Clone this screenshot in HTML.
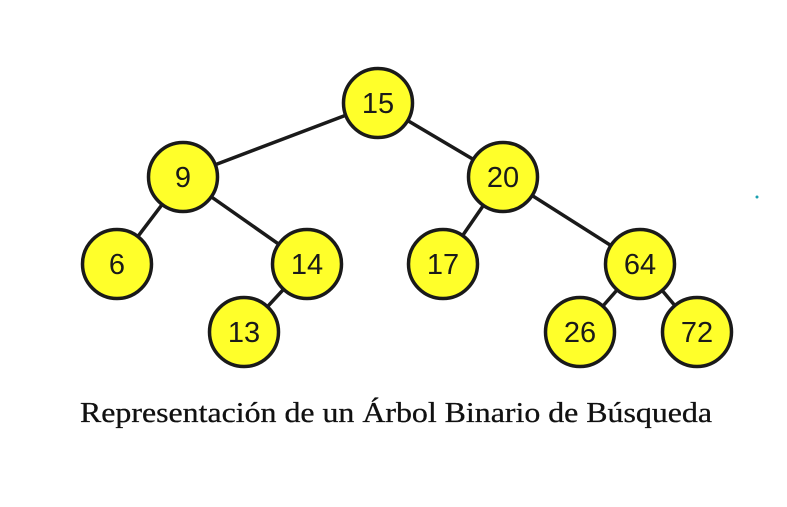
<!DOCTYPE html>
<html><head><meta charset="utf-8"><style>html,body{margin:0;padding:0;background:#fff;}svg{display:block}</style></head>
<body>
<svg width="787" height="507" viewBox="0 0 787 507" xmlns="http://www.w3.org/2000/svg">
<g stroke="#1a1a1a" stroke-width="3.5">
<line x1="378" y1="103" x2="183" y2="177"/>
<line x1="378" y1="103" x2="503" y2="177"/>
<line x1="183" y1="177" x2="117" y2="264"/>
<line x1="183" y1="177" x2="307" y2="264"/>
<line x1="307" y1="264" x2="244" y2="332"/>
<line x1="503" y1="177" x2="443" y2="264"/>
<line x1="503" y1="177" x2="640" y2="264"/>
<line x1="640" y1="264" x2="580" y2="332"/>
<line x1="640" y1="264" x2="697" y2="332"/>
</g>
<g fill="#ffff2a" stroke="#1a1a1a" stroke-width="3.5">
<circle cx="378" cy="103" r="34.5"/>
<circle cx="183" cy="177" r="34.5"/>
<circle cx="503" cy="177" r="34.5"/>
<circle cx="117" cy="264" r="34.5"/>
<circle cx="307" cy="264" r="34.5"/>
<circle cx="443" cy="264" r="34.5"/>
<circle cx="640" cy="264" r="34.5"/>
<circle cx="244" cy="332" r="34.5"/>
<circle cx="580" cy="332" r="34.5"/>
<circle cx="697" cy="332" r="34.5"/>
</g>
<g font-family="Liberation Sans, Arial, sans-serif" font-size="29" fill="#1a1a1a" text-anchor="middle">
<text x="378" y="113">15</text>
<text x="183" y="187">9</text>
<text x="503" y="187">20</text>
<text x="117" y="274">6</text>
<text x="307" y="274">14</text>
<text x="443" y="274">17</text>
<text x="640" y="274">64</text>
<text x="244" y="342">13</text>
<text x="580" y="342">26</text>
<text x="697" y="342">72</text>
</g>
<circle cx="757" cy="197" r="1.5" fill="#1aa0b0"/>
<text x="80" y="422" font-family="Liberation Serif, serif" font-size="29" fill="#111" stroke="#111" stroke-width="0.3" textLength="632" lengthAdjust="spacingAndGlyphs">Representación de un Árbol Binario de Búsqueda</text>
</svg>
</body></html>
